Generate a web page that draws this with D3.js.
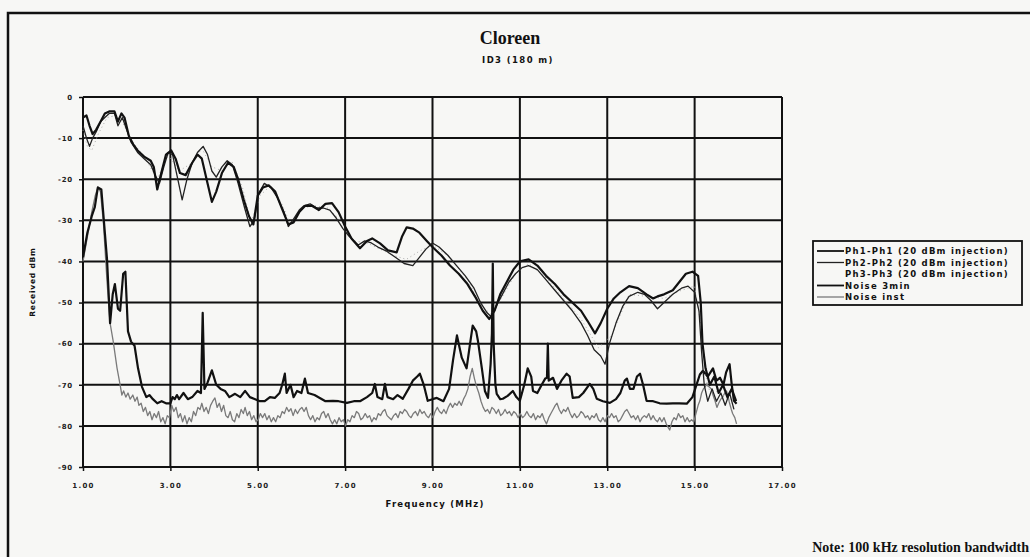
<!DOCTYPE html>
<html>
<head>
<meta charset="utf-8">
<script src="https://cdn.jsdelivr.net/npm/d3@7"></script>
<style>
  html, body { margin: 0; padding: 0; background: #f7f7f5; }
  svg { display: block; }
  .tick text { font-family: "DejaVu Sans", sans-serif; font-weight: bold; font-size: 7px; fill: #222; }
  .xax .tick text { letter-spacing: 1.3px; }
  .yax .tick text { letter-spacing: 0.8px; }
</style>
</head>
<body>
<svg id="chart" width="1030" height="557"></svg>
<script>
// Swept spectrum, received power (dBm) against frequency (MHz)
const ph1Freq = [1.00,1.08,1.15,1.22,1.30,1.40,1.50,1.60,1.72,1.80,1.88,1.95,2.05,2.15,2.25,2.40,2.55,2.62,2.70,2.78,2.90,3.02,3.12,3.22,3.35,3.50,3.62,3.72,3.85,3.95,4.05,4.18,4.32,4.45,4.55,4.68,4.80,4.90,5.00,5.12,5.25,5.40,5.55,5.70,5.82,5.95,6.08,6.25,6.40,6.55,6.70,6.85,7.00,7.15,7.34,7.50,7.62,7.80,7.98,8.18,8.30,8.41,8.55,8.70,8.87,9.00,9.20,9.40,9.60,9.80,10.00,10.15,10.30,10.42,10.55,10.70,10.85,11.00,11.20,11.40,11.60,11.80,12.00,12.20,12.40,12.55,12.72,12.85,13.00,13.15,13.30,13.50,13.70,13.90,14.05,14.15,14.30,14.50,14.65,14.80,14.95,15.08,15.14,15.18,15.25,15.35,15.45,15.55,15.65,15.75,15.85,15.95];
const ph1dBm = [-5,-4.5,-7,-9,-8,-6,-4,-3.5,-3.5,-6,-4,-5,-9.5,-11.5,-13,-14.5,-15.5,-17,-22.5,-19,-14,-13,-15,-18.5,-19,-16,-14,-15,-21,-25.5,-23,-18.5,-16,-17,-20,-25,-29,-31,-24,-22,-21.5,-23,-27,-31,-30.5,-28,-26.5,-26.5,-27.5,-26,-25.8,-28,-31.5,-34.5,-36.8,-35,-34.4,-35.6,-37.3,-37.8,-34,-31.7,-32,-33,-35,-36.5,-38.5,-41,-43,-45.5,-49,-52,-54,-52,-48,-45,-42,-40,-39.5,-41,-43.5,-45.5,-48,-50,-52,-54.5,-57.5,-55,-51.5,-49,-47.5,-46,-46.5,-48,-49,-48.5,-48,-47,-45,-43,-42.5,-43.5,-50,-60,-66,-70,-68,-72,-70,-73,-71,-74];

const ph2Freq = [1.00,1.08,1.15,1.22,1.30,1.40,1.50,1.60,1.72,1.80,1.90,2.00,2.10,2.25,2.40,2.55,2.65,2.75,2.85,2.95,3.05,3.15,3.27,3.38,3.50,3.62,3.75,3.85,3.95,4.05,4.18,4.30,4.42,4.55,4.70,4.82,4.92,5.02,5.15,5.30,5.45,5.60,5.70,5.80,5.95,6.05,6.20,6.35,6.50,6.65,6.80,6.95,7.10,7.30,7.45,7.60,7.75,7.95,8.15,8.35,8.55,8.70,8.85,9.00,9.15,9.35,9.55,9.75,9.95,10.10,10.25,10.35,10.45,10.60,10.75,10.90,11.05,11.20,11.40,11.60,11.80,12.00,12.20,12.40,12.55,12.70,12.85,12.95,13.05,13.20,13.35,13.50,13.70,13.85,14.00,14.15,14.30,14.50,14.70,14.85,15.00,15.10,15.16,15.22,15.30,15.40,15.50,15.60,15.70,15.80,15.90];
const ph2dBm = [-7,-10,-12,-10,-8.5,-6,-5,-4,-4,-7,-5,-8,-11,-13.5,-15,-16.5,-19,-21,-17,-13.5,-14,-19,-25,-20,-16,-13.5,-12,-14,-18,-19.5,-17,-15.5,-16.5,-21,-27,-31.5,-30,-23.5,-21,-22,-24.5,-28,-31.5,-30,-27.5,-26.5,-26,-27,-27,-27.5,-29.5,-32,-34,-36,-35,-35.5,-36.5,-37.5,-39,-40.5,-41,-39,-37,-35.5,-36.5,-38.5,-41,-43.5,-46.5,-50,-52.5,-53.5,-51,-48,-45,-43,-41.5,-41,-42,-44.5,-47,-49.5,-52,-55,-58,-61.5,-63,-65,-60,-55,-51,-48.5,-47.5,-48,-49.5,-51.5,-50,-48,-46.5,-46,-47.5,-52,-62,-70,-74,-71,-74,-72,-75,-72,-76];

const ph3Freq = [1.00,1.10,1.20,1.35,1.55,1.75,1.90,2.10,2.40,2.70,2.95,3.20,3.50,3.72,3.95,4.20,4.40,4.65,4.85,5.05,5.30,5.55,5.75,6.00,6.30,6.60,6.90,7.20,7.50,7.80,8.10,8.40,8.70,9.00,9.40,9.80,10.10,10.35,10.60,10.90,11.20,11.60,12.00,12.40,12.80,13.10,13.50,13.90,14.30,14.70,15.00,15.15,15.30,15.60,15.90];
const ph3dBm = [-8,-12,-13,-9,-5,-4.5,-6,-10.5,-14.5,-20,-14,-18,-16,-12.5,-17,-18,-15.5,-22,-30.5,-24,-21.5,-26,-31,-27,-26.5,-27,-30,-35,-35.5,-37,-38.5,-39.5,-37.5,-36,-39,-44.5,-50.5,-53,-48.5,-43,-40.5,-44,-49,-54,-61,-58,-48,-48.5,-49,-47,-46,-56,-71,-72,-75];

const noiseMaxFreq = [1.00,1.10,1.20,1.27,1.34,1.42,1.50,1.55,1.62,1.68,1.73,1.80,1.85,1.92,1.97,2.03,2.10,2.18,2.26,2.35,2.45,2.52,2.60,2.70,2.80,2.90,3.00,3.05,3.10,3.15,3.20,3.30,3.40,3.50,3.62,3.70,3.74,3.78,3.85,3.95,4.05,4.15,4.25,4.35,4.48,4.60,4.71,4.82,4.94,5.05,5.16,5.28,5.39,5.50,5.56,5.62,5.66,5.75,5.82,5.90,6.00,6.08,6.15,6.30,6.42,6.55,6.72,6.85,7.04,7.20,7.34,7.50,7.62,7.68,7.74,7.85,7.91,7.97,8.10,8.20,8.32,8.45,8.55,8.65,8.71,8.80,8.89,9.00,9.10,9.25,9.38,9.47,9.56,9.62,9.67,9.78,9.86,9.92,10.00,10.04,10.13,10.20,10.27,10.33,10.36,10.38,10.40,10.44,10.47,10.55,10.61,10.72,10.84,10.92,11.00,11.10,11.18,11.26,11.30,11.40,11.50,11.58,11.62,11.64,11.66,11.76,11.85,11.95,12.07,12.14,12.21,12.35,12.45,12.60,12.68,12.76,12.90,13.06,13.20,13.30,13.40,13.45,13.52,13.60,13.68,13.75,13.82,13.90,14.05,14.20,14.36,14.50,14.65,14.82,14.95,15.05,15.12,15.19,15.30,15.42,15.50,15.58,15.66,15.72,15.80,15.85,15.90,15.96];
const noiseMaxdBm = [-39,-33,-29,-26.8,-22,-22.5,-33,-39.5,-55,-48,-45.5,-51.5,-52,-43,-42.5,-57,-59.5,-60.5,-66,-70.5,-73,-72.5,-73.5,-74.5,-74,-74.5,-74.5,-73,-73.5,-72.5,-73.5,-72,-73.5,-73,-71.5,-72,-52.5,-71,-69.5,-66.5,-70,-71,-71.5,-73,-72.2,-73,-71.5,-73,-73.5,-74,-74,-73,-73.2,-72,-70,-67.3,-72,-70,-73,-71.5,-72,-68.5,-72,-72.5,-73.2,-74,-73.9,-74,-74.4,-74,-74,-73,-72,-69.8,-73,-73.5,-69.8,-73,-73.5,-72.5,-73.4,-71,-69,-68,-67.3,-70,-73.9,-73.5,-73.2,-74,-71,-64,-58,-61,-63.4,-66,-60,-55.6,-57,-59.3,-66,-71.5,-73.2,-65,-57.6,-40.5,-60,-70,-72.2,-73.5,-73.4,-72.7,-71.5,-73,-73.9,-70,-66,-68,-71.5,-72,-70,-68.5,-68.3,-60,-69,-68.3,-71,-69,-67.3,-68,-73.2,-73,-72,-69.8,-71,-73.4,-74,-74.4,-73.5,-72,-69,-68.5,-71,-71,-68,-67.3,-70,-73.9,-74,-74.5,-74.6,-74.5,-74.5,-74.6,-73,-69.8,-67.5,-66.6,-68,-66,-69,-68.3,-70,-67,-65,-70,-73.9,-74.6];

const noiseInstFreq = [1.00,1.10,1.20,1.28,1.34,1.40,1.47,1.55,1.62,1.69,1.78,1.85,1.89,1.93,1.98,2.03,2.08,2.14,2.19,2.24,2.28,2.33,2.38,2.43,2.48,2.53,2.58,2.63,2.68,2.73,2.78,2.83,2.88,2.93,2.98,3.03,3.08,3.13,3.18,3.23,3.28,3.33,3.38,3.43,3.48,3.53,3.58,3.63,3.68,3.72,3.77,3.82,3.87,3.92,3.97,4.02,4.07,4.12,4.17,4.22,4.27,4.32,4.37,4.42,4.47,4.52,4.57,4.62,4.67,4.71,4.76,4.81,4.86,4.91,4.96,5.01,5.06,5.11,5.16,5.21,5.26,5.31,5.36,5.41,5.46,5.51,5.56,5.61,5.66,5.71,5.76,5.81,5.86,5.91,5.96,6.01,6.06,6.11,6.16,6.21,6.26,6.31,6.36,6.41,6.46,6.51,6.56,6.61,6.66,6.71,6.76,6.81,6.86,6.91,6.96,7.01,7.06,7.11,7.16,7.21,7.26,7.31,7.36,7.41,7.46,7.51,7.56,7.61,7.66,7.71,7.76,7.81,7.86,7.91,7.96,8.01,8.06,8.11,8.16,8.21,8.26,8.31,8.36,8.41,8.46,8.51,8.56,8.61,8.66,8.71,8.76,8.81,8.86,8.91,8.96,9.01,9.06,9.11,9.16,9.21,9.26,9.31,9.36,9.41,9.46,9.51,9.56,9.61,9.66,9.71,9.76,9.81,9.86,9.91,9.96,10.01,10.06,10.11,10.16,10.21,10.26,10.31,10.36,10.41,10.46,10.51,10.56,10.61,10.66,10.71,10.76,10.81,10.86,10.91,10.96,11.01,11.06,11.11,11.16,11.21,11.26,11.31,11.36,11.41,11.46,11.51,11.56,11.61,11.66,11.71,11.76,11.81,11.85,11.90,11.95,12.00,12.05,12.10,12.15,12.20,12.25,12.30,12.35,12.40,12.45,12.50,12.55,12.60,12.65,12.70,12.75,12.80,12.85,12.90,12.95,13.00,13.05,13.10,13.15,13.20,13.25,13.30,13.35,13.40,13.45,13.50,13.55,13.60,13.65,13.70,13.75,13.80,13.85,13.90,13.95,14.00,14.05,14.10,14.15,14.20,14.25,14.30,14.35,14.40,14.43,14.48,14.53,14.58,14.63,14.68,14.73,14.78,14.83,14.88,14.93,14.98,15.03,15.08,15.12,15.16,15.20,15.24,15.28,15.33,15.38,15.42,15.47,15.51,15.55,15.60,15.64,15.69,15.73,15.77,15.80,15.84,15.87,15.92,15.96];
const noiseInstdBm = [-40,-34,-28,-24,-22,-23,-31,-45,-55,-59.3,-66,-70,-72.5,-71.5,-73,-72,-73.5,-72.5,-74,-73,-75,-74.5,-76.5,-75.5,-77.5,-76.5,-78.5,-77,-78,-76.5,-79,-78,-79.5,-77.5,-78,-75,-76.5,-75.5,-78,-77,-79,-77.5,-79.5,-78,-79,-76.5,-77.5,-75.5,-76,-74.5,-76.5,-75.5,-77,-75,-74,-73.2,-75.5,-74.5,-76.5,-75,-77.5,-78,-76.5,-78.5,-79,-77,-78,-76,-77,-75.5,-77.5,-76.5,-78.5,-77.5,-79,-78.5,-77,-78,-77,-78.5,-77.5,-79,-78,-79,-77.5,-78,-76.5,-77,-75.5,-76.5,-75.8,-77.5,-76,-77,-76,-75.5,-76.5,-75.5,-77.5,-78.5,-77.5,-79,-78,-78.5,-77,-76.5,-78,-77,-78.5,-79.5,-78.5,-79.5,-78,-79,-78.5,-80,-78.5,-79,-77.5,-78,-76.5,-77,-78.5,-78,-77,-78,-77.5,-79,-78,-78.5,-77,-77.5,-76.5,-76,-77.5,-78,-78.5,-77.5,-77,-78,-76.5,-77,-76,-76.5,-77.5,-78,-77,-76.5,-77.5,-76,-77,-76.5,-77.5,-78,-77,-78,-76.5,-75.5,-76.5,-77,-76,-77,-75.5,-74.5,-75.5,-74.5,-75,-74,-75,-73.5,-72.5,-71,-68,-66,-68.5,-70.5,-72,-74,-75.5,-76.5,-76,-77,-75.5,-76,-77,-76,-77.5,-77,-76,-77,-76.5,-77.5,-76.5,-77,-78,-77,-78,-77.5,-76.5,-77.5,-78,-77,-78.5,-77.5,-78,-77,-78.5,-79.5,-78,-77,-76,-75,-74.5,-76,-77,-76,-76.5,-75.5,-77,-78,-77,-78,-77.5,-76.5,-77,-78,-77.5,-78.5,-77.5,-78,-77,-78.5,-79,-78,-79,-77.5,-78,-77,-78,-77.5,-79,-78.5,-77.5,-76.5,-76,-77,-78,-77.5,-78.5,-77.5,-79,-78,-77.5,-78,-77,-78.5,-77.5,-78.5,-79,-78,-79,-78,-79.5,-80.5,-81,-79,-78,-78.5,-77,-78,-77.5,-79,-78,-79,-78.5,-79,-77,-75,-73.9,-72,-71,-70.5,-69.8,-70.5,-71,-72.5,-74,-75.5,-74.5,-73.5,-73,-72,-71.5,-73,-74.5,-76,-77,-78,-79.5];

const xTicks = [1, 3, 5, 7, 9, 11, 13, 15, 17];
const yTicks = [0, -10, -20, -30, -40, -50, -60, -70, -80, -90];
const seriesNames = ["Ph1-Ph1 (20 dBm injection)", "Ph2-Ph2 (20 dBm injection)", "Ph3-Ph3 (20 dBm injection)", "Noise 3min", "Noise inst"];

const series = [
  { name: seriesNames[0], f: ph1Freq, v: ph1dBm, color: "#111", width: 2.2, dash: null },
  { name: seriesNames[1], f: ph2Freq, v: ph2dBm, color: "#222", width: 1.3, dash: null },
  { name: seriesNames[2], f: ph3Freq, v: ph3dBm, color: "#aaa", width: 1, dash: "1,3" },
  { name: seriesNames[3], f: noiseMaxFreq, v: noiseMaxdBm, color: "#111", width: 2.2, dash: null },
  { name: seriesNames[4], f: noiseInstFreq, v: noiseInstdBm, color: "#7a7a7a", width: 1.3, dash: null }
];

const svg = d3.select("#chart");
const plot = { left: 83, right: 782, top: 97, bottom: 467 };

const x = d3.scaleLinear().domain([1, 17]).range([plot.left, plot.right]);
const y = d3.scaleLinear().domain([-90, 0]).range([plot.bottom, plot.top]);

// outer frame of the figure
svg.append("rect")
  .attr("x", 8).attr("y", 13).attr("width", 1040).attr("height", 560)
  .attr("fill", "none").attr("stroke", "#111").attr("stroke-width", 2.5);

// titles
svg.append("text").attr("x", 510).attr("y", 44).attr("text-anchor", "middle")
  .attr("font-family", "Liberation Serif, serif").attr("font-weight", "bold").attr("font-size", 18)
  .attr("fill", "#111").text("Cloreen");
svg.append("text").attr("x", 518).attr("y", 63).attr("text-anchor", "middle")
  .attr("font-family", "DejaVu Sans, sans-serif").attr("font-weight", "bold").attr("font-size", 8.5)
  .attr("letter-spacing", 1.4).attr("fill", "#111").text("ID3 (180 m)");

// grid
svg.append("g").selectAll("line").data(yTicks).join("line")
  .attr("x1", plot.left).attr("x2", plot.right)
  .attr("y1", d => y(d)).attr("y2", d => y(d))
  .attr("stroke", "#111").attr("stroke-width", 2);
svg.append("g").selectAll("line").data(xTicks).join("line")
  .attr("x1", d => x(d)).attr("x2", d => x(d))
  .attr("y1", plot.top).attr("y2", plot.bottom)
  .attr("stroke", "#111").attr("stroke-width", 2);

// axes (labels only, the grid carries the lines)
const yAxis = d3.axisLeft(y).tickValues(yTicks).tickSize(4).tickPadding(6)
  .tickFormat(d => d === 0 ? "0" : "-" + Math.abs(d));
svg.append("g").attr("class", "yax").attr("transform", `translate(${plot.left},0)`).call(yAxis)
  .call(g => g.select(".domain").remove())
  .call(g => g.selectAll(".tick line").attr("stroke", "#111").attr("stroke-width", 1.5));

const xAxis = d3.axisBottom(x).tickValues(xTicks).tickSize(4).tickPadding(12)
  .tickFormat(d3.format(".2f"));
svg.append("g").attr("class", "xax").attr("transform", `translate(0,${plot.bottom})`).call(xAxis)
  .call(g => g.select(".domain").remove())
  .call(g => g.selectAll(".tick line").attr("stroke", "#111").attr("stroke-width", 1.5));

svg.append("text").attr("x", 435).attr("y", 507).attr("text-anchor", "middle")
  .attr("font-family", "DejaVu Sans, sans-serif").attr("font-weight", "bold").attr("font-size", 8.5)
  .attr("letter-spacing", 1.2).attr("fill", "#111").text("Frequency (MHz)");

svg.append("text").attr("transform", "translate(35,282) rotate(-90)").attr("text-anchor", "middle")
  .attr("font-family", "DejaVu Sans, sans-serif").attr("font-weight", "bold").attr("font-size", 7.5)
  .attr("letter-spacing", 0.8).attr("fill", "#111").text("Received dBm");

// traces
const line = d3.line().x(d => x(d[0])).y(d => y(d[1])).curve(d3.curveLinear);
const drawOrder = [4, 3, 2, 1, 0];
drawOrder.forEach(i => {
  const s = series[i];
  svg.append("path")
    .datum(s.f.map((f, k) => [f, s.v[k]]))
    .attr("d", line)
    .attr("fill", "none")
    .attr("stroke", s.color)
    .attr("stroke-width", s.width)
    .attr("stroke-linejoin", "round")
    .attr("stroke-dasharray", s.dash);
});

// legend
const lg = svg.append("g").attr("transform", "translate(813,241)");
lg.append("rect").attr("width", 209).attr("height", 64)
  .attr("fill", "#f7f7f5").attr("stroke", "#111").attr("stroke-width", 1.8);
series.forEach((s, i) => {
  const yy = 10 + i * 11.5;
  if (i !== 2) {
    lg.append("line").attr("x1", 4).attr("x2", 31).attr("y1", yy).attr("y2", yy)
      .attr("stroke", s.color).attr("stroke-width", Math.min(s.width, 1.8));
  }
  lg.append("text").attr("x", 32).attr("y", yy + 3)
    .attr("font-family", "DejaVu Sans, sans-serif").attr("font-weight", "bold").attr("font-size", 8.5)
    .attr("letter-spacing", 1.25).attr("fill", "#111").text(s.name);
});

// footnote
svg.append("text").attr("x", 1029).attr("y", 552).attr("text-anchor", "end")
  .attr("font-family", "Liberation Serif, serif").attr("font-weight", "bold").attr("font-size", 14)
  .attr("fill", "#111").text("Note: 100 kHz resolution bandwidth");
</script>
</body>
</html>
